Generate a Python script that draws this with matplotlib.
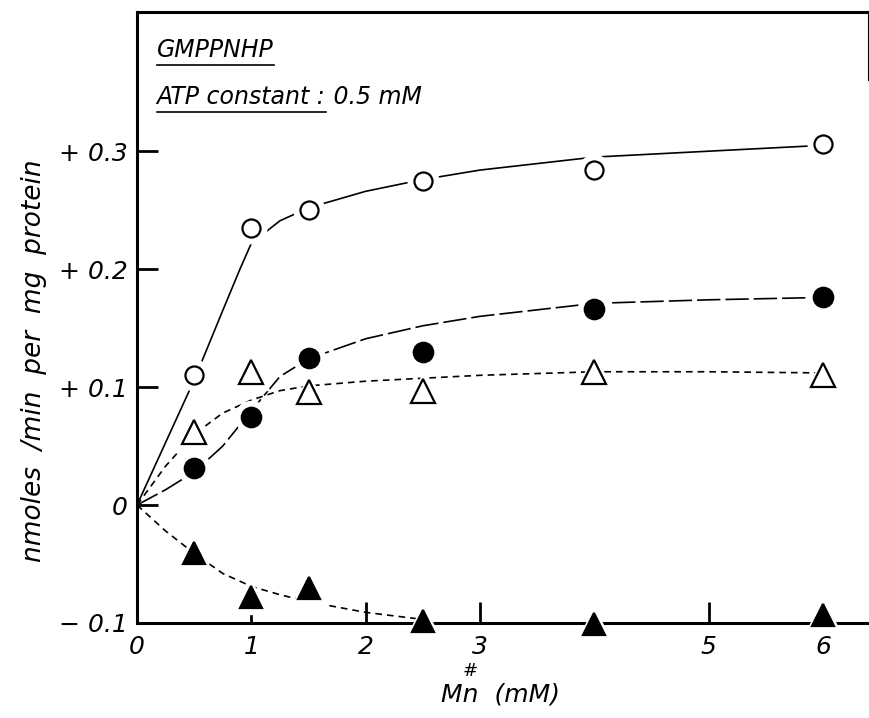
import matplotlib.pyplot as plt

# measured points, Mn++ concentration (mM)
mn = [0.5, 1.0, 1.5, 2.5, 4.0, 6.0]
open_circle = [0.110, 0.235, 0.250, 0.275, 0.284, 0.306]
filled_circle = [0.031, 0.075, 0.125, 0.130, 0.166, 0.176]
open_triangle = [0.062, 0.113, 0.096, 0.097, 0.113, 0.110]
filled_triangle = [-0.041, -0.078, -0.070, -0.098, -0.101, -0.093]

# hand drawn curves
oc_x = [0, 0.25, 0.5, 0.75, 0.9, 1.0, 1.25, 1.5, 2.0, 2.5, 3.0, 4.0, 5.0, 6.0]
oc_y = [0, 0.053, 0.106, 0.165, 0.200, 0.222, 0.241, 0.252, 0.266, 0.276, 0.284, 0.295, 0.300, 0.305]
fc_x = [0, 0.25, 0.5, 0.75, 1.0, 1.25, 1.5, 2.0, 2.5, 3.0, 4.0, 5.0, 6.0]
fc_y = [0, 0.013, 0.028, 0.050, 0.080, 0.109, 0.124, 0.141, 0.152, 0.160, 0.171, 0.174, 0.176]
ot_x = [0, 0.25, 0.5, 0.75, 1.0, 1.25, 1.5, 2.0, 3.0, 4.0, 5.0, 6.0]
ot_y = [0, 0.033, 0.060, 0.078, 0.089, 0.097, 0.101, 0.105, 0.110, 0.113, 0.113, 0.112]
ft_x = [0, 0.25, 0.5, 0.75, 1.0, 1.25, 1.5, 2.0, 2.5]
ft_y = [0, -0.022, -0.041, -0.058, -0.069, -0.076, -0.082, -0.091, -0.097]

x_ticks = [0, 1, 2, 3, 5, 6]
y_ticks = [-0.1, 0, 0.1, 0.2, 0.3]
y_ticklabels = ["\u2212 0.1", "0", "+ 0.1", "+ 0.2", "+ 0.3"]

plt.rcParams["font.family"] = ["DejaVu Sans"]
plt.rcParams["font.style"] = "italic"

fig = plt.figure(figsize=(8.7, 7.18), dpi=100)
ax = fig.add_axes([137 / 870, 95 / 718, 732 / 870, 611 / 718])

# curves
ax.plot(oc_x, oc_y, color="black", lw=1.2, zorder=2.6)
ax.plot(fc_x, fc_y, color="black", lw=1.2, dashes=(14, 3), zorder=2.6)
ax.plot(ot_x, ot_y, color="black", lw=1.2, dashes=(4, 3), zorder=2.6)
ax.plot(ft_x, ft_y, color="black", lw=1.2, dashes=(4, 3), zorder=2.6)

# markers with a white halo so the lines stop short of them
markers = [
    (open_circle, "o", "white", 13),
    (filled_circle, "o", "black", 14),
    (open_triangle, "^", "white", 17),
    (filled_triangle, "^", "black", 16),
]
for vals, m, face, ms in markers:
    ax.plot(mn, vals, ls="none", marker=m, ms=ms + 9, color="white",
            zorder=3, clip_on=False)
    ax.plot(mn, vals, ls="none", marker=m, ms=ms, markerfacecolor=face,
            markeredgecolor="black", markeredgewidth=1.6, zorder=4, clip_on=False)

ax.set_xlim(0, 6.4)
ax.set_ylim(-0.1, 0.418)
ax.set_xticks(x_ticks)
ax.set_xticklabels([str(t) for t in x_ticks])
ax.set_yticks(y_ticks)
ax.set_yticklabels(y_ticklabels)
ax.tick_params(direction="in", length=15, width=2, labelsize=18, pad=7)
ax.tick_params(axis="x", pad=9)

for s in ["left", "bottom", "top"]:
    ax.spines[s].set_linewidth(2.2)
ax.spines["right"].set_linewidth(1.5)
ax.spines["right"].set_bounds(0.36, 0.418)

ax.set_ylabel("nmoles  /min  per  mg  protein", fontsize=19)
ax.yaxis.set_label_coords(-0.123, 0.43)
ax.text(0.496, -0.098, "Mn  (mM)", transform=ax.transAxes, fontsize=18,
        ha="center", va="top")
ax.text(0.456, -0.094, "#", transform=ax.transAxes, fontsize=13,
        ha="center", va="bottom")

# header notes with underlines
t1 = ax.text(0.027, 0.938, "GMPPNHP", transform=ax.transAxes, fontsize=17, va="center")
t2 = ax.text(0.027, 0.861, "ATP constant :", transform=ax.transAxes, fontsize=17, va="center")
ax.annotate(" 0.5 mM", xy=(1, 0.5), xycoords=t2, va="center", fontsize=17)
fig.canvas.draw()
r = fig.canvas.get_renderer()
for t in (t1, t2):
    bb = t.get_window_extent(r)
    fig.add_artist(plt.Line2D([bb.x0 / 870, bb.x1 / 870],
                              [(bb.y0 - 3) / 718, (bb.y0 - 3) / 718],
                              color="black", lw=1.2))

fig.savefig("out.png", dpi=100)
